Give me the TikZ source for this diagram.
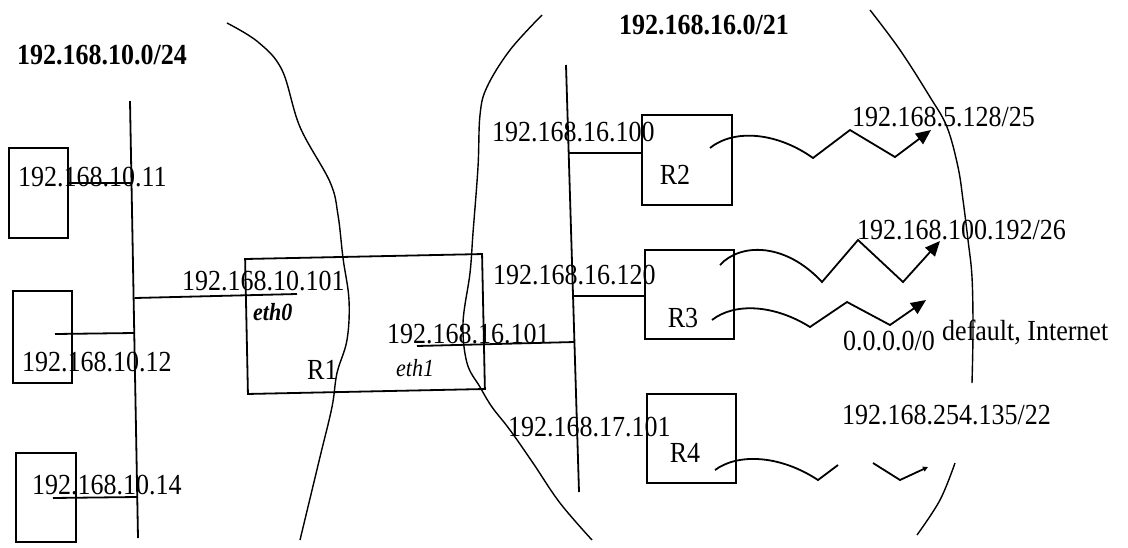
\documentclass[tikz,border=0pt]{standalone}
\usepackage{fontspec}
\usepackage{graphicx}
\setmainfont{Liberation Serif}
\usetikzlibrary{arrows.meta}
% slightly tall lettering
\newcommand\vs[1]{\scalebox{1}[1.12]{#1}}
\begin{document}
\begin{tikzpicture}[x=1pt,y=-1pt,
  every node/.style={inner sep=0pt, font=\fontsize{26}{28}\selectfont},
  lbl/.style={anchor=west},
  net/.style={font=\fontsize{26}{28}\selectfont\bfseries},
  iface/.style={anchor=west, font=\fontsize{22}{24}\selectfont\itshape},
  hostbox/.style={draw, line width=1.8pt, minimum width=59pt, minimum height=90pt},
  rtbox/.style={draw, line width=1.8pt, minimum width=89pt, minimum height=89pt},
  wire/.style={line width=1.8pt},
  cloud/.style={line width=1.4pt},
  link/.style={line width=1.8pt, line join=miter},
  bigtip/.style={-{Triangle[length=15pt,width=13pt]}},
  smalltip/.style={-{Triangle[length=5pt,width=5pt]}},
]
\useasboundingbox (0,0) rectangle (1128,547);

% network boundaries
\draw[cloud] plot[smooth, tension=0.6] coordinates {(227,23) (258,42) (282,70) (300,127) (330,182) (338,215) (343,258) (349,300) (347,340) (337,373) (332,407) (320,457) (300,540)};
\draw[cloud] plot[smooth, tension=0.6] coordinates {(542,15) (510,50) (487,87) (480,115) (478,167) (473,233) (470,273) (463,323) (467,363) (480,387) (492,407) (510,430) (533,463) (560,503) (592,540)};
\draw[cloud] plot[smooth, tension=0.6] coordinates {(870,10) (900,50) (930,97) (947,127) (958,167) (963,200) (968,240) (972,277) (973,330) (972,383)};
\draw[cloud] plot[smooth, tension=0.6] coordinates {(955,463) (940,500) (917,535)};

% network titles
\node[net] (n10) at (102,55) {\vs{192.168.10.0/24}};
\node[net] (n16) at (704,25) {\vs{192.168.16.0/21}};

% left segment
\coordinate (busLt) at (130,101);
\coordinate (busLb) at (138,538);
\draw[wire] (busLt) -- (busLb);

\node[hostbox] (h1) at (38.5,193) {};
\node[hostbox, minimum height=92pt] (h2) at (42.5,337) {};
\node[hostbox, minimum width=60pt, minimum height=89pt] (h3) at (46,497.5) {};

\coordinate (h1p) at (68,183);
\coordinate (b1) at (131.5,183);
\coordinate (h2p) at (55,334);
\coordinate (b2) at (134.3,333);
\coordinate (h3p) at (53,498);
\coordinate (b3) at (137,497);
\coordinate (b0) at (134.7,298);
\coordinate (r1w) at (297,294);

\draw[wire] (h1p) -- (b1);
\draw[wire] (h2p) -- (b2);
\draw[wire] (h3p) -- (b3);

\node[lbl] (l11) at (18,177) {\vs{192.168.10.11}};
\node[lbl] (l12) at (22,362) {\vs{192.168.10.12}};
\node[lbl] (l14) at (32,485) {\vs{192.168.10.14}};

% router R1
\node[draw, line width=1.8pt, minimum width=237pt, minimum height=135pt, rotate=1.2] (r1) at (365,324) {};
\draw[wire] (b0) -- (r1w);
\node[lbl] (l101) at (182,281) {\vs{192.168.10.101}};
\node[iface, font=\fontsize{22}{24}\selectfont\itshape\bfseries] (eth0) at (253,312) {\vs{eth0}};
\node[lbl] (r1t) at (307,370) {\vs{R1}};
\node[lbl] (l16101) at (387,334) {\vs{192.168.16.101}};
\node[iface] (eth1) at (396,368) {\vs{eth1}};

% right segment
\coordinate (busRt) at (566,65);
\coordinate (busRb) at (579,492);
\draw[wire] (busRt) -- (busRb);

\node[rtbox, minimum width=90pt, minimum height=90pt] (r2) at (687,160) {};
\node[rtbox] (r3) at (689.5,294.5) {};
\node[rtbox] (r4) at (691.5,438.5) {};

\coordinate (r1e) at (417,346);
\coordinate (bR1) at (574.5,342);
\coordinate (bR2) at (568.7,153);
\coordinate (bR3) at (573,296);
\draw[wire] (r1e) -- (bR1);
\draw[wire] (bR2) -- (bR2 -| r2.west);
\draw[wire] (bR3) -- (bR3 -| r3.west);

\node[lbl] (l16100) at (492,132) {\vs{192.168.16.100}};
\node[lbl] (l16120) at (493,275) {\vs{192.168.16.120}};
\node[lbl] (l17101) at (508,427) {\vs{192.168.17.101}};
\node (r2t) at (675,175) {\vs{R2}};
\node (r3t) at (683,318) {\vs{R3}};
\node (r4t) at (685,453) {\vs{R4}};

% routes leaving the routers
\coordinate (a2s) at (710,148);
\coordinate (a2e) at (931,130);
\draw[link, bigtip] (a2s) .. controls (735,128) and (778,133) .. (813,158) -- (850,130) -- (895,157) -- (a2e);

\coordinate (a3s) at (720,265);
\coordinate (a3e) at (940,241);
\draw[link, bigtip] (a3s) .. controls (740,243) and (785,242) .. (822,282) -- (858,240) -- (903,282) -- (a3e);

\coordinate (a3ds) at (712,320);
\coordinate (a3de) at (926,300);
\draw[link, bigtip] (a3ds) .. controls (735,302) and (775,305) .. (810,327) -- (847,302) -- (890,325) -- (a3de);

\coordinate (a4s) at (715,470);
\coordinate (a4m) at (838,465);
\coordinate (a4n) at (873,463);
\coordinate (a4e) at (928,467);
\draw[link] (a4s) .. controls (738,453) and (780,455) .. (818,480) -- (a4m);
\draw[link, smalltip] (a4n) -- (900,480) -- (a4e);

\node[lbl] (d1) at (852,117) {\vs{192.168.5.128/25}};
\node[lbl] (d2) at (857,230) {\vs{192.168.100.192/26}};
\node[lbl] (d3) at (843,341) {\vs{0.0.0.0/0}};
\node[lbl] (d3t) at (942,332) {\vs{default, Internet}};
\node[lbl] (d4) at (842,415) {\vs{192.168.254.135/22}};
\end{tikzpicture}
\end{document}
